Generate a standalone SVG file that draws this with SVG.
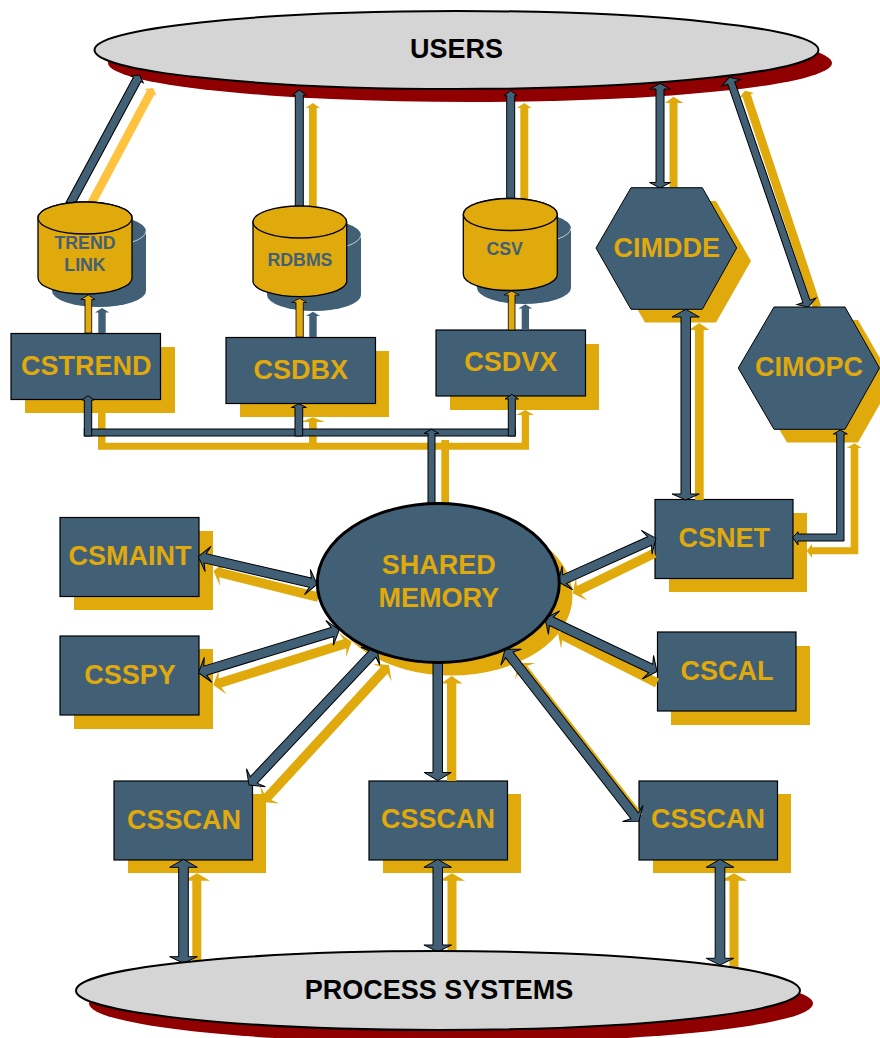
<svg xmlns="http://www.w3.org/2000/svg" width="880" height="1038" viewBox="0 0 880 1038">
<style>
text{font-family:"Liberation Sans",Arial,sans-serif;font-weight:bold;text-anchor:middle}
.t{font-size:27px;fill:#E0A90C}
.k{font-size:27px;fill:#000}
.c{font-size:17.7px;fill:#416076}
.b{fill:#416076;stroke:#000;stroke-width:1.2}
.s{fill:#416076;stroke:#000;stroke-width:1}
.y{fill:#E0A90C}
.yo{fill:#E0A90C;stroke:#000;stroke-width:.8}
.l{fill:#FFC33F}
.so{fill:#416076}
.g{fill:#D5D5D5;stroke:#000;stroke-width:2}
.r{fill:#900000}
.cy{fill:#E0A90C;stroke:#000;stroke-width:1.3}
</style>
<rect width="880" height="1038" fill="#fff"/>
<g id="shadows">
<ellipse class="r" cx="470" cy="63" rx="362" ry="39"/>
<ellipse class="r" cx="451" cy="1003.5" rx="362" ry="39.5"/>
<rect class="y" x="25" y="347" width="150" height="66"/>
<rect class="y" x="240" y="351" width="149" height="66"/>
<rect class="y" x="450" y="344" width="149" height="66"/>
<rect class="y" x="74" y="531" width="139" height="79"/>
<rect class="y" x="74" y="649" width="139" height="80"/>
<rect class="y" x="669" y="513" width="138" height="79"/>
<rect class="y" x="671" y="646" width="139" height="79"/>
<rect class="y" x="128" y="794" width="138" height="79"/>
<rect class="y" x="383" y="794" width="138" height="79"/>
<rect class="y" x="653" y="794" width="138" height="79"/>
<polygon class="y" points="645,201 716,201 751,261 716,322.500 645,322.500 610,261"/>
<polygon class="y" points="787,320 858,320 893,381 858,442.500 787,442.500 751,381"/>
<ellipse class="y" cx="451.500" cy="596" rx="121" ry="79.500"/>
<path class="so" d="M52 231A47 16 0 0 1 146 231V291A47 16 0 0 1 52 291Z"/>
<path class="so" d="M267 235A47 16 0 0 1 361 235V295A47 16 0 0 1 267 295Z"/>
<path class="so" d="M477 228A47 16 0 0 1 571 228V288A47 16 0 0 1 477 288Z"/>
<path d="M132.500 242A47 16 0 0 0 146 231M347 246A47 16 0 0 0 361 235M557.500 239A47 16 0 0 0 571 228" fill="none" stroke="#fff" stroke-width=".7"/>
</g>
<g id="users"><ellipse class="g" cx="456.500" cy="50" rx="362" ry="39"/><text class="k" x="456.500" y="58">USERS</text></g>
<g id="cstrend"><rect class="b" x="11" y="333.500" width="149.500" height="66"/><text class="t" x="86.300" y="374.500">CSTREND</text></g>
<g id="csdbx"><rect class="b" x="226" y="337.500" width="149.500" height="66"/><text class="t" x="300.700" y="378.500">CSDBX</text></g>
<g id="csdvx"><rect class="b" x="436" y="330" width="149.500" height="66"/><text class="t" x="510.800" y="370.700">CSDVX</text></g>
<g id="csmaint"><rect class="b" x="60" y="517.500" width="139" height="79"/><text class="t" x="130" y="565">CSMAINT</text></g>
<g id="csspy"><rect class="b" x="60" y="636" width="139" height="79"/><text class="t" x="130" y="684">CSSPY</text></g>
<g id="csnet"><rect class="b" x="655" y="499.500" width="138" height="79"/><text class="t" x="724.300" y="546.700">CSNET</text></g>
<g id="cscal"><rect class="b" x="657.500" y="632" width="138.500" height="79"/><text class="t" x="727" y="680">CSCAL</text></g>
<g id="csscan1"><rect class="b" x="114" y="781" width="138.500" height="79"/><text class="t" x="184" y="829">CSSCAN</text></g>
<g id="csscan2"><rect class="b" x="369" y="781" width="138.500" height="79"/><text class="t" x="438" y="828">CSSCAN</text></g>
<g id="csscan3"><rect class="b" x="639" y="781" width="138.500" height="79"/><text class="t" x="708" y="828">CSSCAN</text></g>
<g id="connectors">
<path class="l" transform="translate(153,88) rotate(118.100)" d="M0 0L5 -7V-4.300H132V4.300H5V7Z"/>
<path class="s" transform="translate(139.500,75) rotate(118.300)" d="M0 0L5 -7V-4.300H147V4.300H5V7Z"/>
<path class="y" d="M312.800 103L320 108H316.700V208H309V108H305.600Z"/>
<path class="s" d="M299.300 90L306.300 95H303.300V208H295.300V95H292.300Z"/>
<path class="y" d="M524.300 103L531.500 108H528.300V201H520.300V108H517Z"/>
<path class="s" d="M510.700 90.700L517.700 95.700H514.700V201H506.700V95.700H503.700Z"/>
<path class="y" d="M673.500 96.700L683.300 103H677.500V189H669.500V103H665Z"/>
<path class="s" d="M660 83.500L670.500 89H664V182.500H670.500L660 188L649.500 182.500H656V89H649.500Z"/>
<path class="y" transform="translate(745,90.700) rotate(71.600)" d="M0 0L5 -8V-4.300H228V4.300H5V8Z"/>
<path class="s" transform="translate(729.300,77.300) rotate(71)" d="M0 0L6 -10V-3.700H237V-10L243 0 237 10V3.700H6V10Z"/>
<path class="y" d="M699.300 323L709.500 330H703.700V500H695V330H689Z"/>
<path class="s" d="M685.700 309.300L699.300 317H690.500V494H699.300L685.700 500L672.100 494H681V317H672.100Z"/>
<path class="y" d="M854.500 443.300L861.700 448H858.300V554.300H812V557.700L806.700 550.800L812 544V547.300H850.700V448H846.700Z"/>
<path class="s" d="M840.300 430L847.300 434H844V541H798V545L792.700 537.500L798 531.700V534H836.700V434H833.300Z"/>
<path class="y" d="M98 412.700H105.500V442.700H309V422L301 422L312.800 417.300L325 422H316.700V442.700H441.300V440H449V442.700H521.700V415H516L525.300 410L534 415H529V449.700H98Z"/>
<path class="y" d="M441.300 449H449V506H441.300Z"/>
<rect class="s" x="84.300" y="429" width="431" height="7"/>
<path class="s" d="M88 395.700L94 400H91.700V436H84.300V400H82Z"/>
<path class="s" d="M298.800 403.700L306.500 407.500H302.700V436H295V407.500H291.300Z"/>
<path class="s" d="M511.800 394.300L518.500 399H515.300V436H508.300V399H505Z"/>
<path class="s" d="M431.500 429.300L439 433.500H435V506H428V433.500H424Z"/>
<path class="yo" d="M88.400 295L95 299.500H91.700V333H85V299.500H80.700Z"/>
<path class="so" d="M102 308L109.300 312.500H105.700V333H98.300V312.500H95Z"/>
<path class="yo" d="M299.700 298.300L306.700 302.500H303.300V337H296V302.500H291.700Z"/>
<path class="so" d="M313 311.700L320 316H316.700V337H309.300V316H306Z"/>
<path class="yo" d="M511.700 291L519.300 295H515V330H508.300V295H504Z"/>
<path class="so" d="M525.300 304.300L532.300 308.500H529V330H521.700V308.500H518.300Z"/>
<path class="y" transform="translate(213.500,571) rotate(14)" d="M0 0L10 -13 7 -4.700H108V4.700H7L10 13Z"/>
<path class="s" transform="translate(198.300,556.700) rotate(13.060)" d="M0 0L10 -13 7 -4.700H115L112 -13 122 0 112 13 115 4.700H7L10 13Z"/>
<path class="y" transform="translate(213.300,685) rotate(-17.400)" d="M0 0L10 -13 7 -4.700H138L135 -13 145 0 135 13 138 4.700H7L10 13Z"/>
<path class="s" transform="translate(198.500,672.700) rotate(-16.900)" d="M0 0L10 -13 7 -4.700H140L137 -13 147 0 137 13 140 4.700H7L10 13Z"/>
<path class="y" transform="translate(263,802) rotate(-47.400)" d="M0 0L10 -13 7 -4.700H179L176 -13 186 0 176 13 179 4.700H7L10 13Z"/>
<path class="s" transform="translate(249,785) rotate(-46.700)" d="M0 0L10 -13 7 -4.700H180L177 -13 187 0 177 13 180 4.700H7L10 13Z"/>
<path class="y" d="M451.700 676L462.500 683.500H456.300V781H447V683.500H441Z"/>
<path class="s" d="M437.700 662H442.500V772.500H451.200L437.700 780.700L424.200 772.500H433V662Z"/>
<path class="y" transform="translate(519,663) rotate(52.100)" d="M0 0L10 -13 7 -4.700H195V4.700H7L10 13Z"/>
<path class="s" transform="translate(505,649.300) rotate(52.100)" d="M0 0L10 -13 7 -4.700H211L208 -13 218 0 208 13 211 4.700H7L10 13Z"/>
<path class="y" transform="translate(558,633) rotate(26.800)" d="M0 0L10 -13 7 -4.700H111V4.700H7L10 13Z"/>
<path class="s" transform="translate(545,618.300) rotate(25.400)" d="M0 0L10 -13 7 -4.700H117L114 -13 124 0 114 13 117 4.700H7L10 13Z"/>
<path class="y" transform="translate(572.700,593.300) rotate(-26.100)" d="M0 0L10 -13 7 -4.700H91V4.700H7L10 13Z"/>
<path class="s" transform="translate(558.300,582) rotate(-24.200)" d="M0 0L10 -13 7 -4.700H100L97 -13 107 0 97 13 100 4.700H7L10 13Z"/>
<path class="y" d="M197 873.300L210 880.700H201.300V964H192.300V880.700H184Z"/>
<path class="s" d="M183.500 859.300L197.300 867.300H188.300V956.700H197.300L183.500 963.300L169.700 956.700H178.700V867.300H169.700Z"/>
<path class="y" d="M452 873.300L465 880.700H456.500V954H447.500V880.700H439Z"/>
<path class="s" d="M437.700 859.300L451.500 867.300H442.500V945H451.500L437.700 951.700L423.900 945H433V867.300H423.900Z"/>
<path class="y" d="M734 873.300L747 880.700H738.500V968H729.500V880.700H721Z"/>
<path class="s" d="M720 859.300L733.800 867.300H724.800V958.300H733.800L720 965L706.200 958.300H715.200V867.300H706.200Z"/>
</g>
<g id="trendlink"><path class="cy" d="M38 218A47 16 0 0 1 132 218V278A47 16 0 0 1 38 278Z"/><ellipse class="cy" cx="85" cy="218" rx="47" ry="16"/><text class="c" x="85" y="249">TREND</text><text class="c" x="85" y="271">LINK</text></g>
<g id="rdbms"><path class="cy" d="M253 222A47 16 0 0 1 346.700 222V282A47 16 0 0 1 253 282Z"/><ellipse class="cy" cx="299.800" cy="222" rx="46.800" ry="16"/><text class="c" x="300" y="265.700">RDBMS</text></g>
<g id="csv"><path class="cy" d="M463.300 214.500A47 16 0 0 1 557.300 214.500V274.500A47 16 0 0 1 463.300 274.500Z"/><ellipse class="cy" cx="510.300" cy="214.500" rx="47" ry="16"/><text class="c" x="504.700" y="254.700">CSV</text></g>
<g id="cimdde"><polygon class="s" points="631,187.700 702.300,187.700 736.700,248 702.300,309.300 631,309.300 596,248"/><text class="t" x="666.700" y="256.700">CIMDDE</text></g>
<g id="cimopc"><polygon class="s" points="774,307 845,307 879.500,368 845,429.300 774,429.300 738.300,368"/><text class="t" x="809" y="375.700">CIMOPC</text></g>
<g id="shared"><ellipse cx="438.300" cy="583" rx="121" ry="79.500" fill="#416076" stroke="#000" stroke-width="3"/><text class="t" x="438.700" y="574.300">SHARED</text><text class="t" x="438.700" y="607.300">MEMORY</text></g>
<g id="process"><ellipse class="g" cx="438" cy="990.500" rx="362" ry="39.500"/><text class="k" x="439" y="998.500">PROCESS SYSTEMS</text></g>
</svg>
